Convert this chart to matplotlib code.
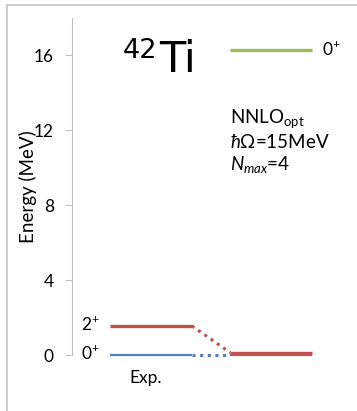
"""
Espectro de 42Ti: experimento vs. calculo NNLOopt
"""

import matplotlib
matplotlib.use('Agg')
import matplotlib.pyplot as plt
from matplotlib.lines import Line2D

# Datos (MeV)
EXP_ENERGIES = [0.0, 1.555]
EXP_LABELS = ['0', '2']
EXP_COLORS = ['#4f81bd', '#c0504d']

TH_ENERGIES = [0.0, 0.12, 16.3]
TH_COLORS = ['#4f81bd', '#c0504d', '#9bbb59']
TH_LABEL = '0'

YTICKS = [0, 4, 8, 12, 16]

# Columnas: posicion izquierda de cada grupo de niveles
COL_X = [0.0, 1.47]
WIDTH = 1.0

plt.rcParams['font.family'] = ['Lato', 'DejaVu Sans']
plt.rcParams['mathtext.fontset'] = 'custom'
plt.rcParams['mathtext.rm'] = 'Lato'
plt.rcParams['mathtext.it'] = 'Lato:italic'

fig = plt.figure(figsize=(3.57, 4.11), dpi=100)
ax = fig.add_axes([72 / 357, 56 / 411, 278 / 357, 337 / 411])

# marco exterior gris
fig.add_artist(Line2D([7 / 357, 7 / 357], [0, 1 - 5 / 411], color='#c4c4c4', lw=1.2))
fig.add_artist(Line2D([7 / 357, 1], [1 - 5 / 411, 1 - 5 / 411], color='#c4c4c4', lw=1.2))

# niveles experimentales
for e, c in zip(EXP_ENERGIES, EXP_COLORS):
    lw = 2.4 if c == '#c0504d' else 1.6
    ax.plot([COL_X[0], COL_X[0] + WIDTH], [e, e], color=c, lw=lw,
            solid_capstyle='butt', clip_on=False)

# niveles teoricos
for e, c in zip(TH_ENERGIES, TH_COLORS):
    lw = 1.6 if c == '#4f81bd' else 2.4
    ax.plot([COL_X[1], COL_X[1] + WIDTH], [e, e], color=c, lw=lw,
            solid_capstyle='butt', clip_on=False)

# conectores punteados
for e_exp, e_th, c in zip(EXP_ENERGIES, TH_ENERGIES[:2], EXP_COLORS):
    ax.plot([COL_X[0] + WIDTH, COL_X[1]], [e_exp, e_th], color=c, lw=2.2,
            linestyle=(0, (1, 1.5)), clip_on=False)

# etiquetas de espin
for e, lab in zip(EXP_ENERGIES, EXP_LABELS):
    ax.text(COL_X[0] - 0.12, e + 0.1, lab + r'$^{+}$', ha='right', va='center', fontsize=12.5)
ax.text(COL_X[1] + WIDTH + 0.12, TH_ENERGIES[2] + 0.05, TH_LABEL + r'$^{+}$',
        ha='left', va='center', fontsize=12.5)

ax.text(0.43, -1.25, 'Exp.', ha='center', va='center', fontsize=12.5, clip_on=False)

# titulo del nucleo
ax.text(0.16, 15.84, '42', fontsize=19.5, family='DejaVu Sans', ha='left', va='baseline')
ax.text(0.60, 15.1, 'Ti', fontsize=31, family='DejaVu Sans', ha='left', va='baseline')

# parametros del calculo
ax.text(COL_X[1], 12.37, r'NNLO$_{\mathrm{opt}}$', fontsize=13.5, ha='left', va='baseline')
ax.text(COL_X[1], 11.05, r'$\mathit{\hbar\Omega}$=15MeV', fontsize=13.5, ha='left', va='baseline')
ax.text(COL_X[1], 9.87, r'$\mathit{N_{max}}$=4', fontsize=13.5, ha='left', va='baseline')

ax.set_xlim(-0.463, 2.93)
ax.set_ylim(0, 18)
ax.set_yticks(YTICKS)
ax.tick_params(axis='y', length=5, color='#bfbfbf', labelsize=12.5, pad=8)
ax.set_xticks([])
for s in ['top', 'right', 'bottom']:
    ax.spines[s].set_visible(False)
ax.spines['left'].set_color('#bfbfbf')
ax.set_ylabel('Energy (MeV)', fontsize=13.5)
ax.yaxis.set_label_coords(-0.127, 0.5)

plt.savefig('out.png', dpi=100)
